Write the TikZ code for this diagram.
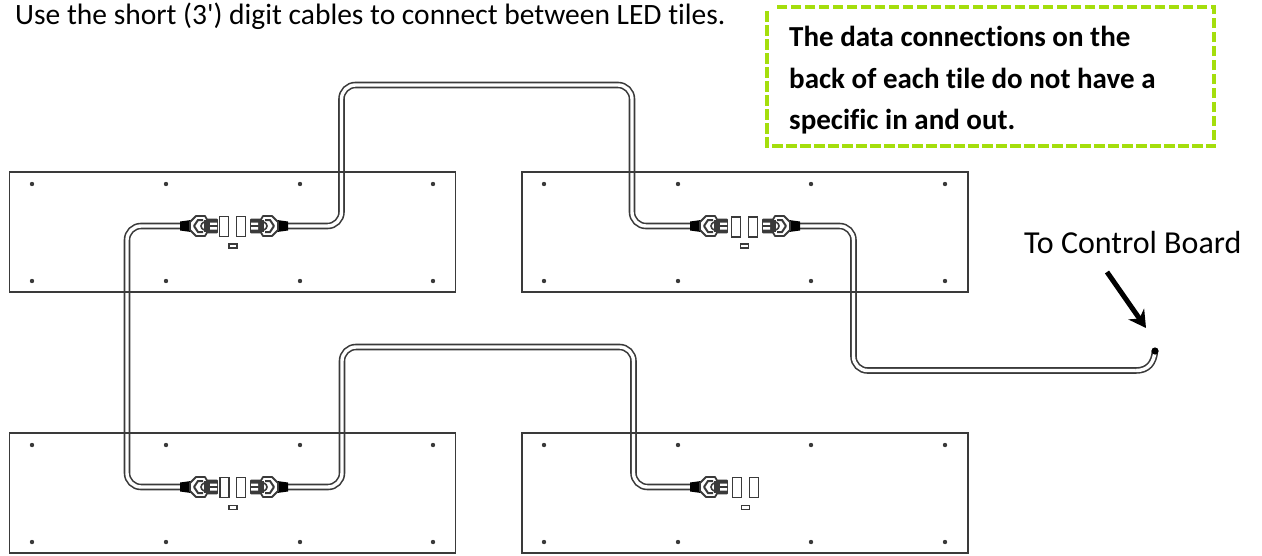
\documentclass[tikz,border=0pt]{standalone}
\usepackage{fontspec}
\setmainfont{Carlito}[Ligatures={TeXOff,CommonOff}]
\usetikzlibrary{arrows.meta}
\definecolor{linegray}{HTML}{3A3A3A}
\definecolor{notegreen}{HTML}{A4DE0C}
\tikzset{
  x=1pt,y=-1pt,
  tile/.style={draw=linegray,line width=1.8pt,minimum width=446pt,minimum height=120pt,inner sep=0pt,outer sep=0pt},
  screw/.style={circle,fill=linegray,inner sep=0pt,minimum size=4.4pt},
  port/.style={draw=linegray,fill=white,line width=1.2pt,inner sep=0pt,outer sep=0pt,minimum width=9pt,minimum height=20pt},
  smallport/.style={draw=linegray,fill=white,line width=1.2pt,inner sep=0pt,outer sep=0pt,minimum width=8pt,minimum height=4pt},
  cable/.style={draw=linegray,line width=1.6pt,double=white,double distance=3.4pt,rounded corners=14pt},
  note/.style={font=\bfseries\fontsize{29}{41.5}\selectfont,align=left,inner sep=0pt,anchor=north west},
  plug/.pic={
    \fill[black] (0,-4.5)--(11,-6)--(11,6)--(0,4.5)--cycle;
    \draw[linegray,fill=white,line width=1.8pt,line join=round]
      (10,-4)--(16,-10)--(25,-10)--(27,-6.5)--(37,-6.5)--(37,6.5)--(27,6.5)--(25,10)--(16,10)--(10,4)--cycle;
    \fill[linegray] (24,-6) rectangle (37,6);
    \fill[white] (30,-3.5) rectangle (37,-1.2) (30,1.2) rectangle (37,3.5);
    \draw[linegray,line width=2pt] (14,0)--(18,-6)--(23,-6) (14,0)--(18,6)--(23,6);
    \draw[linegray,line width=1.6pt] (24,-4) .. controls (20,-2) and (20,2) .. (24,4);
  }
}
\begin{document}
\begin{tikzpicture}
\useasboundingbox (0,0) rectangle (1262,555);

% cable ends
\coordinate (aL) at (180,226);
\coordinate (aR) at (288,226);
\coordinate (bL) at (690,226);
\coordinate (bR) at (800,226);
\coordinate (cL) at (180,487);
\coordinate (cR) at (288,487);
\coordinate (dL) at (690,487);
\coordinate (cableBend) at (1136,370.5);
\coordinate (cableEnd) at (1155,351);
\coordinate (arrowFrom) at (1107,272);
\coordinate (arrowTo) at (1146,328);

% cables
\draw[cable] (aR) -- (341.5,226) -- (341.5,85) -- (632,85) -- (632,226) -- (bL);
\draw[cable] (aL) -- (127,226) -- (127,487) -- (cL);
\draw[cable] (cR) -- (342,487) -- (342,347) -- (633.5,347) -- (633.5,487) -- (dL);
\draw[cable] (bR) -- (853.5,226) -- (853.5,370.5) -- (cableBend);
\draw[cable,sharp corners] (cableBend) .. controls (1148,370.5) and (1154,363) .. (cableEnd);
\fill[black] (cableEnd) circle (3.6pt);

% tiles
\node[tile] (tileA) at (232.5,232) {};
\node[tile] (tileB) at (745,232) {};
\node[tile] (tileC) at (232.5,493) {};
\node[tile] (tileD) at (745,493) {};

% screws
\foreach \sx in {32,166,300,433}{
  \foreach \sy in {184,281,445,542}{
    \node[screw] at (\sx,\sy) {};
  }
}
\foreach \sx in {544,678,811,945}{
  \foreach \sy in {184,281,445,542}{
    \node[screw] at (\sx,\sy) {};
  }
}

% ports
\node[port] (pa1) at (224,226.5) {};
\node[port] (pa2) at (241,226.5) {};
\node[smallport] (pa3) at (233,246) {};
\node[port] (pb1) at (736,227) {};
\node[port] (pb2) at (753,227) {};
\node[smallport] (pb3) at (744.5,246) {};
\node[port] (pc1) at (224.5,487.5) {};
\node[port] (pc2) at (241,487.5) {};
\node[smallport] (pc3) at (233,507.5) {};
\node[port] (pd1) at (737,487.5) {};
\node[port] (pd2) at (754,487.5) {};
\node[smallport] (pd3) at (745.5,507.5) {};

% plugs
\pic at (aL) {plug};
\pic[xscale=-1] at (aR) {plug};
\pic at (bL) {plug};
\pic[xscale=-1] at (bR) {plug};
\pic at (cL) {plug};
\pic[xscale=-1] at (cR) {plug};
\pic at (dL) {plug};

% texts
\node[inner sep=0pt,anchor=base west,font=\fontsize{29.5}{34}\selectfont] (intro) at (15,24)
  {Use the short (3') digit cables to connect between LED tiles.};
\node[inner sep=0pt,anchor=base west,font=\fontsize{32}{38}\selectfont] (ctrl) at (1024,253) {To Control Board};

% note
\draw[notegreen,line width=4pt,dash pattern=on 10.5pt off 3.5pt] (767,11) -- (767,146) -- (1214,146) -- (1214,7) -- (775,7);
\node[note] (notetext) at (789,26) {The data connections on the\\back of each tile do not have a\\specific in and out.};

% arrow
\draw[line width=5pt,-{Stealth[length=17pt,width=19pt]}] (arrowFrom) -- (arrowTo);
\end{tikzpicture}
\end{document}
